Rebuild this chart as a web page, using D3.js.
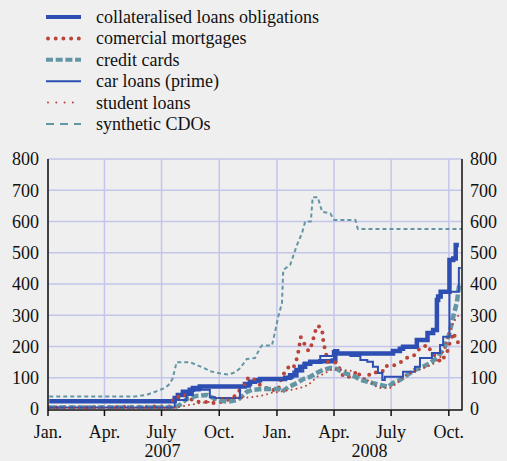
<!DOCTYPE html>
<html>
<head>
<meta charset="utf-8">
<script src="https://cdn.jsdelivr.net/npm/d3@7"></script>
<style>
  html, body { margin: 0; padding: 0; background: #efefef; }
  svg { display: block; }
</style>
</head>
<body>
<svg width="507" height="461"></svg>
<script>
const seriesNames = [
  "collateralised loans obligations",
  "comercial mortgages",
  "credit cards",
  "car loans (prime)",
  "student loans",
  "synthetic CDOs"
];

const cloData = [
  ["2007-01-03", 25], ["2007-07-19", 25], ["2007-07-22", 35], ["2007-07-27", 45],
  ["2007-08-04", 55], ["2007-08-15", 62], ["2007-08-20", 67], ["2007-08-31", 72],
  ["2007-11-03", 72], ["2007-11-11", 80], ["2007-11-19", 87], ["2007-11-27", 92],
  ["2007-12-05", 96], ["2008-01-06", 96], ["2008-01-14", 100], ["2008-01-22", 108],
  ["2008-02-01", 125], ["2008-02-07", 135], ["2008-02-15", 145], ["2008-02-23", 151],
  ["2008-03-10", 153], ["2008-03-30", 155], ["2008-04-03", 185], ["2008-04-06", 178],
  ["2008-06-29", 178], ["2008-07-04", 186], ["2008-07-15", 193], ["2008-07-20", 199],
  ["2008-08-11", 221], ["2008-08-28", 243], ["2008-09-06", 253], ["2008-09-12", 349],
  ["2008-09-14", 360], ["2008-09-18", 375], ["2008-10-02", 477], ["2008-10-08", 482],
  ["2008-10-12", 525], ["2008-10-17", 525]
];

const mortgageData = [
  ["2007-01-03", 5], ["2007-07-14", 8], ["2007-07-22", 39], ["2007-07-30", 39],
  ["2007-08-07", 45], ["2007-08-15", 35], ["2007-08-23", 24], ["2007-09-13", 22],
  ["2007-09-24", 19], ["2007-10-07", 24], ["2007-10-23", 35], ["2007-11-03", 61],
  ["2007-11-11", 77], ["2007-11-16", 99], ["2007-11-24", 99], ["2007-12-05", 77],
  ["2007-12-13", 70], ["2007-12-21", 61], ["2008-01-03", 60], ["2008-01-06", 87],
  ["2008-01-14", 121], ["2008-01-20", 135], ["2008-01-27", 131], ["2008-02-01", 157],
  ["2008-02-04", 182], ["2008-02-08", 230], ["2008-02-13", 211], ["2008-02-20", 186],
  ["2008-02-24", 192], ["2008-02-26", 218], ["2008-02-29", 230], ["2008-03-03", 256],
  ["2008-03-06", 267], ["2008-03-13", 256], ["2008-03-14", 230], ["2008-03-16", 205],
  ["2008-03-19", 179], ["2008-03-22", 151], ["2008-03-29", 151], ["2008-04-06", 147],
  ["2008-04-16", 103], ["2008-04-24", 103], ["2008-05-02", 109], ["2008-05-08", 123],
  ["2008-05-13", 103], ["2008-05-21", 93], ["2008-05-29", 115], ["2008-06-17", 119],
  ["2008-06-21", 138], ["2008-07-04", 138], ["2008-07-15", 148], ["2008-07-28", 166],
  ["2008-08-08", 173], ["2008-08-16", 195], ["2008-08-28", 205], ["2008-09-04", 179],
  ["2008-09-12", 165], ["2008-09-18", 150], ["2008-09-28", 179], ["2008-10-03", 215],
  ["2008-10-09", 244], ["2008-10-12", 221], ["2008-10-17", 211], ["2008-10-22", 205]
];

const creditCardData = [
  ["2007-01-03", 5], ["2007-07-22", 5], ["2007-07-30", 13], ["2007-08-10", 32],
  ["2007-08-26", 42], ["2007-09-11", 45], ["2007-09-16", 40], ["2007-09-29", 29],
  ["2007-10-15", 23], ["2007-10-31", 29], ["2007-11-14", 55], ["2007-11-22", 61],
  ["2007-12-08", 64], ["2008-01-03", 64], ["2008-01-09", 55], ["2008-01-19", 70],
  ["2008-02-02", 83], ["2008-02-12", 96], ["2008-02-23", 103], ["2008-03-05", 116],
  ["2008-03-14", 125], ["2008-03-26", 131], ["2008-04-06", 128], ["2008-04-16", 116],
  ["2008-04-27", 109], ["2008-05-05", 103], ["2008-05-13", 93], ["2008-06-02", 83],
  ["2008-06-13", 77], ["2008-06-26", 71], ["2008-07-04", 83], ["2008-07-15", 93],
  ["2008-07-27", 109], ["2008-08-08", 125], ["2008-08-21", 135], ["2008-09-01", 147],
  ["2008-09-14", 167], ["2008-09-25", 199], ["2008-10-02", 243], ["2008-10-08", 295],
  ["2008-10-14", 343], ["2008-10-17", 391], ["2008-10-20", 400]
];

const carLoanData = [
  ["2007-01-03", 5], ["2007-07-19", 5], ["2007-07-22", 29], ["2007-08-10", 45],
  ["2007-08-20", 59], ["2007-08-31", 62], ["2007-09-16", 38], ["2007-09-24", 35],
  ["2007-10-31", 35], ["2007-11-03", 71], ["2007-11-19", 87], ["2007-12-05", 93],
  ["2008-01-14", 100], ["2008-01-27", 120], ["2008-02-12", 147], ["2008-03-10", 170],
  ["2008-03-30", 186], ["2008-04-03", 179], ["2008-04-27", 170], ["2008-05-13", 157],
  ["2008-05-24", 151], ["2008-06-02", 135], ["2008-06-10", 115], ["2008-06-17", 93],
  ["2008-06-21", 103], ["2008-07-20", 119], ["2008-08-08", 135], ["2008-08-16", 163],
  ["2008-09-04", 179], ["2008-09-17", 205], ["2008-09-22", 231], ["2008-10-02", 375],
  ["2008-10-17", 451], ["2008-10-20", 451]
];

const studentLoanData = [
  ["2007-01-03", 3], ["2007-07-19", 3], ["2007-07-30", 7], ["2007-08-31", 19],
  ["2007-09-21", 24], ["2007-09-27", 35], ["2007-11-19", 37], ["2007-12-13", 45],
  ["2007-12-21", 51], ["2008-01-06", 55], ["2008-01-22", 61], ["2008-02-07", 67],
  ["2008-02-20", 77], ["2008-03-05", 103], ["2008-03-18", 115], ["2008-03-30", 128],
  ["2008-04-16", 125], ["2008-04-27", 123], ["2008-05-08", 115], ["2008-05-18", 99],
  ["2008-05-29", 87], ["2008-06-02", 77], ["2008-06-13", 67], ["2008-06-29", 67],
  ["2008-07-11", 83], ["2008-07-20", 103], ["2008-08-05", 119], ["2008-08-21", 131],
  ["2008-09-04", 141], ["2008-09-17", 163], ["2008-09-25", 199], ["2008-10-03", 253],
  ["2008-10-11", 285], ["2008-10-17", 301], ["2008-10-20", 305]
];

const cdoData = [
  ["2007-01-03", 40], ["2007-05-20", 40], ["2007-06-07", 45], ["2007-06-15", 51],
  ["2007-06-22", 56], ["2007-06-28", 61], ["2007-07-06", 67], ["2007-07-14", 80],
  ["2007-07-19", 99], ["2007-07-25", 150], ["2007-08-15", 150], ["2007-08-26", 141],
  ["2007-09-08", 130], ["2007-09-16", 121], ["2007-10-02", 114], ["2007-10-15", 110],
  ["2007-10-26", 117], ["2007-11-03", 130], ["2007-11-14", 160], ["2007-11-27", 163],
  ["2007-12-05", 195], ["2007-12-08", 203], ["2007-12-24", 203], ["2007-12-29", 247],
  ["2008-01-03", 295], ["2008-01-09", 339], ["2008-01-11", 445], ["2008-01-22", 461],
  ["2008-02-02", 525], ["2008-02-10", 563], ["2008-02-15", 600], ["2008-02-24", 600],
  ["2008-02-27", 678], ["2008-03-06", 678], ["2008-03-13", 631], ["2008-03-26", 626],
  ["2008-04-01", 605], ["2008-05-05", 605], ["2008-05-09", 576], ["2008-10-22", 576]
];

const yTicks = [0, 100, 200, 300, 400, 500, 600, 700, 800];
const monthLabels = ["Jan.", "Apr.", "July", "Oct."];
const yearLabels = ["2007", "2008"];

function drawChart() {
  let svg = d3.select("svg"),
    left = 48, right = 462, top = 159, bottom = 409,
    font = "Liberation Serif", fontSize = 18;

  let parse = d3.timeParse("%Y-%m-%d");
  let x = d3.scaleTime()
    .domain([new Date(2007, 0, 1), new Date(2008, 9, 22)])
    .range([left, right]);
  let y = d3.scaleLinear()
    .domain([0, 800])
    .range([bottom, top]);

  let blue = "#2d4eb2", red = "#b9443a", teal = "#6395a4";
  // dash = pattern inside the plot, keyDash = pattern in the legend sample
  let styles = [
    { data: cloData, color: blue, width: 4.5, keyWidth: 4, dash: null, keyDash: null, cap: "butt", curve: d3.curveStepAfter },
    { data: mortgageData, color: red, width: 4, keyWidth: 4, dash: "0,7.5", keyDash: "0,7.7", cap: "round", curve: d3.curveLinear },
    { data: creditCardData, color: teal, width: 4.5, keyWidth: 4, dash: "7,2.7", keyDash: "7,2.7", cap: "butt", curve: d3.curveLinear },
    { data: carLoanData, color: blue, width: 2, keyWidth: 2, dash: null, keyDash: null, cap: "butt", curve: d3.curveStepAfter },
    { data: studentLoanData, color: red, width: 2, keyWidth: 2, dash: "0,5", keyDash: "0,8.3", cap: "round", curve: d3.curveLinear },
    { data: cdoData, color: teal, width: 2, keyWidth: 2, dash: "4,3", keyDash: "8,6", cap: "butt", curve: d3.curveLinear }
  ];

  // grid
  let quarters = d3.timeMonth.every(3).range(new Date(2007, 0, 1), new Date(2008, 9, 23));
  svg.append("g")
    .selectAll("line")
    .data(quarters)
    .enter().append("line")
    .attr("x1", (d) => x(d)).attr("x2", (d) => x(d))
    .attr("y1", top).attr("y2", bottom)
    .attr("stroke", "#c3c6ea").attr("stroke-width", 1.5);
  svg.append("g")
    .selectAll("line")
    .data(yTicks.slice(1))
    .enter().append("line")
    .attr("x1", left).attr("x2", right)
    .attr("y1", (d) => y(d)).attr("y2", (d) => y(d))
    .attr("stroke", "#c3c6ea").attr("stroke-width", 1.5);

  // series
  svg.append("clipPath").attr("id", "plot")
    .append("rect").attr("x", left).attr("y", top - 5)
    .attr("width", right - left).attr("height", bottom - top + 5);

  let series = svg.append("g").attr("clip-path", "url(#plot)");
  styles.forEach((s) => {
    let line = d3.line()
      .curve(s.curve)
      .x((d) => x(parse(d[0])))
      .y((d) => y(d[1]));
    series.append("path")
      .attr("d", line(s.data))
      .attr("fill", "none")
      .attr("stroke", s.color)
      .attr("stroke-width", s.width)
      .attr("stroke-dasharray", s.dash)
      .attr("stroke-linecap", s.cap)
      .attr("stroke-linejoin", "miter");
  });

  // axes frame
  svg.append("line")
    .attr("x1", left).attr("x2", left).attr("y1", top).attr("y2", bottom + 1.5)
    .attr("stroke", "#111").attr("stroke-width", 1.5);
  svg.append("line")
    .attr("x1", right).attr("x2", right).attr("y1", top).attr("y2", bottom + 1.5)
    .attr("stroke", "#111").attr("stroke-width", 1.5);
  svg.append("line")
    .attr("x1", left).attr("x2", right).attr("y1", bottom + 1).attr("y2", bottom + 1)
    .attr("stroke", "#111").attr("stroke-width", 1.5);

  let xTick = svg.append("g")
    .selectAll("g")
    .data(quarters)
    .enter().append("g")
    .attr("transform", (d) => "translate(" + x(d) + ",0)");
  xTick.append("line")
    .attr("y1", bottom + 1).attr("y2", bottom + 7)
    .attr("stroke", "#111").attr("stroke-width", 1.5);
  xTick.append("text")
    .attr("y", 438)
    .attr("text-anchor", "middle")
    .attr("font-family", font)
    .attr("font-size", fontSize)
    .attr("fill", "#111")
    .text((d) => monthLabels[d.getMonth() / 3]);

  svg.append("g")
    .selectAll("text")
    .data(yearLabels)
    .enter().append("text")
    .attr("x", (d) => {
      let a = x(new Date(+d, 0, 1)),
        b = Math.min(x(new Date(+d + 1, 0, 1)), right);
      return (a + b) / 2;
    })
    .attr("y", 457)
    .attr("text-anchor", "middle")
    .attr("font-family", font)
    .attr("font-size", fontSize)
    .attr("fill", "#111")
    .text((d) => d);

  let yLabels = svg.append("g")
    .attr("font-family", font)
    .attr("font-size", fontSize)
    .attr("fill", "#111");
  yLabels.selectAll(".left")
    .data(yTicks)
    .enter().append("text")
    .attr("class", "left")
    .attr("x", 39)
    .attr("y", (d) => y(d))
    .attr("dy", ".35em")
    .attr("text-anchor", "end")
    .text((d) => d);
  yLabels.selectAll(".right")
    .data(yTicks)
    .enter().append("text")
    .attr("class", "right")
    .attr("x", 470)
    .attr("y", (d) => y(d))
    .attr("dy", ".35em")
    .text((d) => d);

  // legend
  let legend = svg.append("g")
    .selectAll("g")
    .data(styles)
    .enter().append("g")
    .attr("transform", (d, i) => "translate(0," + (17 + i * 21.4) + ")");
  legend.append("line")
    .attr("x1", (d) => d.cap === "round" ? 48 : 46)
    .attr("x2", 81)
    .attr("stroke", (d) => d.color)
    .attr("stroke-width", (d) => d.keyWidth)
    .attr("stroke-dasharray", (d) => d.keyDash)
    .attr("stroke-linecap", (d) => d.cap);
  legend.append("text")
    .attr("x", 96)
    .attr("dy", ".33em")
    .attr("font-family", font)
    .attr("font-size", fontSize)
    .attr("fill", "#111")
    .text((d, i) => seriesNames[i]);
}

drawChart();
</script>
</body>
</html>
